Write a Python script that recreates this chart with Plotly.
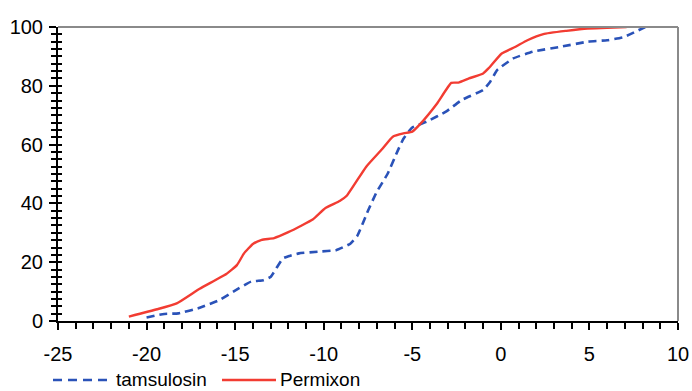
import plotly.graph_objects as go

# Permixon (red, solid)
permixon_x = [-21.0, -19.4, -18.3, -17.0, -15.5, -14.9, -14.5, -14.0, -13.5, -12.8, -12.0,
              -11.3, -10.6, -9.9, -9.1, -8.7, -7.6, -6.7, -6.1, -5.5, -5.0, -4.6, -3.6,
              -2.8, -2.4, -1.8, -1.0, -0.7, 0.05, 0.8, 1.5, 2.4, 3.7, 4.9, 6.0, 7.1]
permixon_y = [1.5, 4.0, 6.0, 11.0, 16.0, 19.0, 23.0, 26.2, 27.6, 28.2, 30.2,
              32.3, 34.6, 38.4, 40.8, 42.6, 52.5, 58.5, 62.7, 63.8, 64.4, 66.7, 74.0,
              81.0, 81.1, 82.5, 84.2, 85.9, 91.0, 93.2, 95.5, 97.6, 98.7, 99.5, 99.7, 100.0]

# tamsulosin (blue, dashed)
tamsulosin_x = [-20.0, -19.0, -18.2, -17.0, -15.9, -15.1, -14.1, -13.4, -13.0, -12.3, -12.0,
                -11.4, -10.3, -9.3, -8.5, -8.1, -7.5, -7.0, -6.4, -5.8, -5.5, -5.0, -4.2,
                -3.1, -2.2, -1.0, -0.6, -0.2, 0.7, 1.8, 3.4, 4.9, 6.0, 6.9, 7.5, 8.15]
tamsulosin_y = [1.2, 2.4, 2.6, 4.5, 7.1, 10.0, 13.4, 13.9, 15.0, 21.3, 22.0,
                23.0, 23.6, 24.1, 26.3, 29.0, 37.5, 44.0, 50.0, 58.2, 62.0, 65.8, 67.8,
                71.2, 75.2, 78.6, 81.4, 85.4, 89.3, 91.6, 93.3, 95.0, 95.5, 96.5, 98.1, 100.0]

series_names = ["tamsulosin", "Permixon"]
x_ticks = [-25, -20, -15, -10, -5, 0, 5, 10]
y_ticks = [0, 20, 40, 60, 80, 100]

BLUE = "#2a52b8"
RED = "#f23c32"
FONT = "Liberation Sans, Arial, sans-serif"

# plot-area geometry (pixels) used to place the hand-built legend
L, R, T, B = 58, 678, 27, 321
W, H = R - L, B - T
def px(x):
    return (x - L) / W
def py(y):
    return (B - y) / H

fig = go.Figure()
fig.add_trace(go.Scatter(x=tamsulosin_x, y=tamsulosin_y, mode="lines", name=series_names[0],
                         line=dict(color=BLUE, width=2.6, dash="8px,5px", shape="spline", smoothing=0.4)))
fig.add_trace(go.Scatter(x=permixon_x, y=permixon_y, mode="lines", name=series_names[1],
                         line=dict(color=RED, width=2.4, shape="spline", smoothing=0.4)))
# invisible trace to activate the overlay y axis (for crossing ticks)
fig.add_trace(go.Scatter(x=[None], y=[None], yaxis="y2", showlegend=False, hoverinfo="skip"))

shapes = [
    dict(type="line", xref="paper", yref="paper", x0=0, x1=1, y0=1, y1=1,
         line=dict(color="#8a8a8a", width=2)),
    dict(type="line", xref="paper", yref="paper", x0=1, x1=1, y0=0, y1=1,
         line=dict(color="#8a8a8a", width=2)),
    # legend samples
    dict(type="line", xref="paper", yref="paper", x0=px(53), x1=px(111), y0=py(380), y1=py(380),
         line=dict(color=BLUE, width=2.6, dash="9px,6px")),
    dict(type="line", xref="paper", yref="paper", x0=px(222), x1=px(276), y0=py(380), y1=py(380),
         line=dict(color=RED, width=2.6)),
]
annotations = [
    dict(text=series_names[0], xref="paper", yref="paper", x=px(114), y=py(379),
         xanchor="left", yanchor="middle", showarrow=False,
         font=dict(family=FONT, size=19, color="black")),
    dict(text=series_names[1], xref="paper", yref="paper", x=px(278), y=py(379),
         xanchor="left", yanchor="middle", showarrow=False,
         font=dict(family=FONT, size=19, color="black")),
]

fig.update_layout(
    width=692, height=391,
    margin=dict(l=L, r=692 - R, t=T, b=391 - B, autoexpand=False),
    paper_bgcolor="white", plot_bgcolor="white",
    font=dict(family=FONT, size=20, color="black"),
    showlegend=False,
    xaxis=dict(range=[-25, 10], tickvals=x_ticks, ticktext=[str(v) for v in x_ticks],
               showgrid=False, zeroline=False, showline=True, linecolor="black", linewidth=2,
               ticks="outside", ticklen=7, tickwidth=2, tickcolor="black",
               minor=dict(dtick=1, tick0=0, ticks="outside", ticklen=6, tickwidth=2, tickcolor="black"),
               tickfont=dict(size=20), ticklabelstandoff=7),
    yaxis=dict(range=[0, 100], tickvals=y_ticks, ticktext=[str(v) for v in y_ticks],
               showgrid=False, zeroline=False, showline=True, linecolor="black", linewidth=2,
               ticks="outside", ticklen=7, tickwidth=2, tickcolor="black",
               minor=dict(dtick=2.5, tick0=0, ticks="outside", ticklen=5, tickwidth=2, tickcolor="black"),
               tickfont=dict(size=20), ticklabelstandoff=2),
    yaxis2=dict(range=[0, 100], overlaying="y", side="left", anchor="x",
                showgrid=False, zeroline=False, showline=False, showticklabels=False,
                tickvals=y_ticks, ticks="inside", ticklen=4, tickwidth=2, tickcolor="black",
                minor=dict(dtick=2.5, tick0=0, ticks="inside", ticklen=4, tickwidth=2, tickcolor="black")),
    shapes=shapes,
    annotations=annotations,
)

fig.write_html("out.html")
